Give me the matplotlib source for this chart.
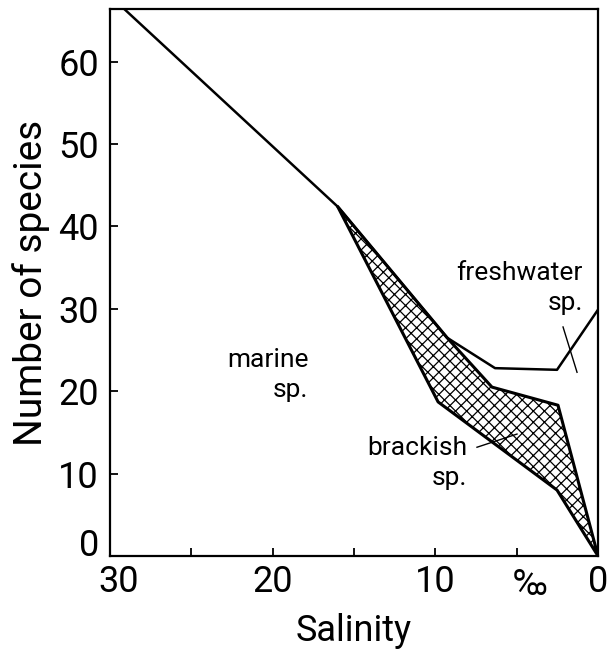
import matplotlib
matplotlib.use("Agg")
import matplotlib.pyplot as plt
from matplotlib.transforms import ScaledTranslation

plt.rcParams["font.family"] = ["Roboto", "DejaVu Sans"]
plt.rcParams["hatch.linewidth"] = 0.9

# salinity (per mille) vs number of species
marine_x = [30.0, 16.0]
marine_y = [68.0, 42.4]

fresh_x = [16.0, 9.28, 6.33, 2.52, 0.0]
fresh_y = [42.4, 26.5, 22.8, 22.6, 29.9]

brack_upper_x = [16.0, 9.28, 6.52, 2.46, 0.0]
brack_upper_y = [42.4, 26.5, 20.5, 18.3, 0.0]
brack_lower_x = [16.0, 9.83, 2.52, 0.0]
brack_lower_y = [42.4, 18.7, 8.0, 0.0]

x_ticks = [30, 25, 20, 15, 10, 5, 0]
x_ticklabels = ["30", "", "20", "", "10", "", "0"]
y_ticks = [0, 10, 20, 30, 40, 50, 60]

fig = plt.figure(figsize=(6.07, 6.60), dpi=100)
ax = fig.add_axes([0.1812, 0.1576, 0.804, 0.8288])

ax.plot(marine_x, marine_y, color="black", lw=1.8, solid_capstyle="round")
ax.plot(fresh_x, fresh_y, color="black", lw=1.8, solid_joinstyle="round")

# hatched band for brackish species
poly_x = brack_upper_x + brack_lower_x[::-1]
poly_y = brack_upper_y + brack_lower_y[::-1]
ax.fill(poly_x, poly_y, facecolor="white", edgecolor="black", hatch="xxx", lw=2.2,
        joinstyle="round")

ax.set_xlim(30, 0)
ax.set_ylim(0, 66.4)
ax.set_xticks(x_ticks)
ax.set_xticklabels(x_ticklabels)
ax.set_yticks(y_ticks)
ax.tick_params(direction="in", length=6, width=1.3, labelsize=26, color="black")
ax.tick_params(axis="x", pad=6)
ax.tick_params(axis="y", pad=8)
for sp in ax.spines.values():
    sp.set_linewidth(1.6)

# lift the zero label and nudge "30" right so the corner labels don't collide
ax.get_yticklabels()[0].set_verticalalignment("baseline")
lab30 = ax.get_xticklabels()[0]
lab30.set_transform(lab30.get_transform() + ScaledTranslation(6 / 72, 0, fig.dpi_scale_trans))

ax.set_xlabel("Salinity", fontsize=26, labelpad=9)
ax.set_ylabel("Number of species", fontsize=28, labelpad=6)

ax.text(4.2, -0.02, "\u2030", transform=ax.get_xaxis_transform(), fontsize=26,
        ha="center", va="top")

txt = dict(fontsize=19, ha="right", va="center", linespacing=1.3,
           multialignment="right")
ax.text(17.8, 22.0, "marine\nsp.", **txt)
ax.text(0.92, 32.5, "freshwater\nsp.", **txt)
ax.text(8.05, 11.3, "brackish\nsp.", **txt)

# leader lines
ax.plot([2.15, 1.29], [27.8, 22.3], color="black", lw=1.0)
ax.plot([7.44, 4.98], [13.2, 14.8], color="black", lw=1.0)

fig.savefig("out.png", dpi=100)
